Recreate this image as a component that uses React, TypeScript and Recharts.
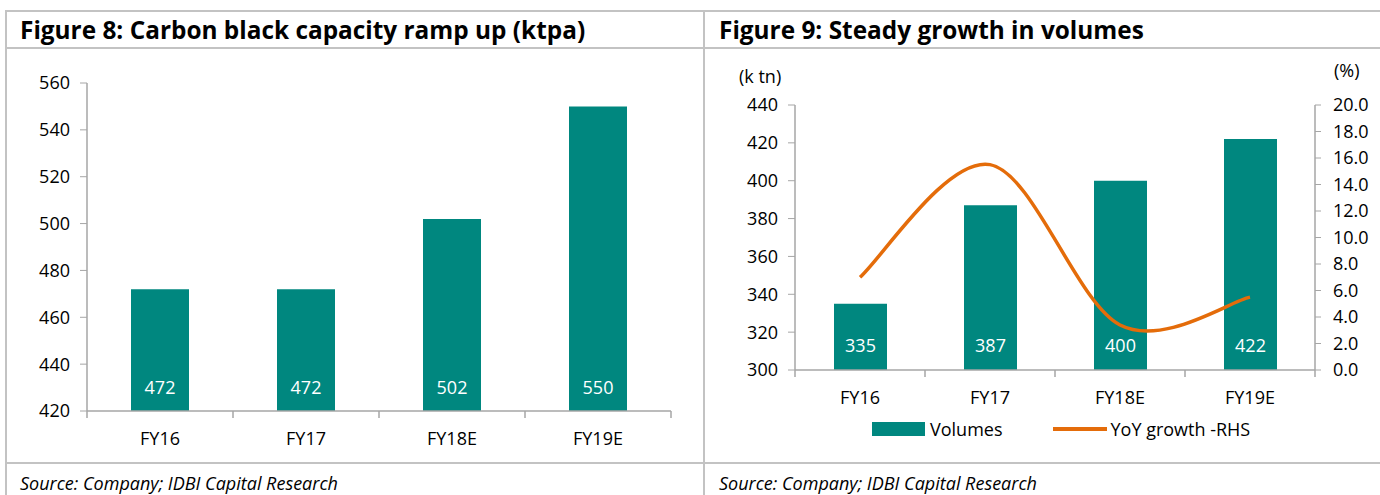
import React from 'react';
import {
  ComposedChart,
  BarChart,
  Bar,
  Line,
  XAxis,
  YAxis,
  LabelList,
  Legend,
} from 'recharts';

const categories = ['FY16', 'FY17', 'FY18E', 'FY19E'];
const capacity = [472, 472, 502, 550];
const volumes = [335, 387, 400, 422];
const yoyGrowth = [7.0, 15.5, 3.4, 5.5];

const capacityTicks = [420, 440, 460, 480, 500, 520, 540, 560];
const volumeTicks = [300, 320, 340, 360, 380, 400, 420, 440];
const growthTicks = [0, 2, 4, 6, 8, 10, 12, 14, 16, 18, 20];

const capacityData = categories.map((c, i) => ({ cat: c, capacity: capacity[i] }));
const volumeData = categories.map((c, i) => ({
  cat: c,
  volumes: volumes[i],
  growth: yoyGrowth[i],
}));

const TEAL = '#00877F';
const ORANGE = '#E46C0A';
const AXIS = '#a6a6a6';
const FRAME = '#c3c3c3';
const FONT = '"Open Sans", "Noto Sans", sans-serif';
const X_TICK_MARGIN = 21;
const X_TICK_LEN = 7;

// Excel-like smoothed line (Catmull-Rom through the points)
function excelCurve(context: any) {
  let pts: number[][] = [];
  return {
    areaStart() {},
    areaEnd() {},
    lineStart() {
      pts = [];
    },
    point(x: number, y: number) {
      pts.push([+x, +y]);
    },
    lineEnd() {
      const n = pts.length;
      if (!n) return;
      context.moveTo(pts[0][0], pts[0][1]);
      const t = 1 / 6;
      for (let i = 0; i < n - 1; i++) {
        const p0 = pts[i - 1] || pts[i];
        const p1 = pts[i];
        const p2 = pts[i + 1];
        const p3 = pts[i + 2] || p2;
        context.bezierCurveTo(
          p1[0] + (p2[0] - p0[0]) * t,
          p1[1] + (p2[1] - p0[1]) * t,
          p2[0] - (p3[0] - p1[0]) * t,
          p2[1] - (p3[1] - p1[1]) * t,
          p2[0],
          p2[1]
        );
      }
    },
  };
}

const tickStyle = { fill: '#000', fontSize: 18, fontFamily: FONT };

// category tick: label at the band centre plus Excel-style tick marks at band edges
const CategoryTick = (props: any) => {
  const { x, y, payload, index, visibleTicksCount } = props;
  const half = (payload && payload.offset) || 0;
  const axisY = y - X_TICK_MARGIN;
  const last = index === (visibleTicksCount ?? categories.length) - 1;
  return (
    <g>
      <line x1={x - half} x2={x - half} y1={axisY} y2={axisY + X_TICK_LEN} stroke={AXIS} strokeWidth={1.5} />
      {last && (
        <line x1={x + half} x2={x + half} y1={axisY} y2={axisY + X_TICK_LEN} stroke={AXIS} strokeWidth={1.5} />
      )}
      <text x={x} y={y} dy="0.71em" textAnchor="middle" fill="#000" fontSize={18} fontFamily={FONT}>
        {payload.value}
      </text>
    </g>
  );
};

const LegendContent = (props: any) => {
  const payload = props.payload || [];
  return (
    <div
      style={{
        height: 20,
        display: 'flex',
        alignItems: 'center',
        paddingLeft: 172,
        fontFamily: FONT,
        fontSize: 18,
        color: '#000',
      }}
    >
      {payload.map((p: any, i: number) => (
        <div key={i} style={{ display: 'flex', alignItems: 'center' }}>
          {p.type === 'line' ? (
            <div style={{ width: 54, height: 4, background: p.color, marginRight: 4, marginLeft: 50 }} />
          ) : (
            <div style={{ width: 53, height: 14, background: p.color, marginRight: 5 }} />
          )}
          <span style={{ lineHeight: '20px' }}>{p.value}</span>
        </div>
      ))}
    </div>
  );
};

const titleStyle: React.CSSProperties = {
  position: 'absolute',
  top: 17,
  fontFamily: FONT,
  fontWeight: 700,
  fontSize: 25,
  lineHeight: '25px',
  color: '#000',
  whiteSpace: 'nowrap',
  transform: 'scaleX(0.975)',
  transformOrigin: 'left center',
};

const sourceStyle: React.CSSProperties = {
  position: 'absolute',
  top: 474,
  fontFamily: FONT,
  fontStyle: 'italic',
  fontSize: 18,
  lineHeight: '18px',
  color: '#000',
  whiteSpace: 'nowrap',
};

const line = (s: React.CSSProperties): React.CSSProperties => ({
  position: 'absolute',
  background: FRAME,
  ...s,
});

export default function App() {
  return (
    <div
      style={{
        position: 'absolute',
        left: 0,
        top: 0,
        width: 1380,
        height: 495,
        background: '#fff',
        overflow: 'hidden',
        fontFamily: FONT,
      }}
    >
      {/* frame */}
      <div style={line({ left: 5, top: 10, width: 1375, height: 2 })} />
      <div style={line({ left: 5, top: 47, width: 1375, height: 2 })} />
      <div style={line({ left: 5, top: 462, width: 1375, height: 2 })} />
      <div style={line({ left: 5, top: 10, width: 2, height: 485 })} />
      <div style={line({ left: 703, top: 10, width: 2, height: 485 })} />

      <div style={{ ...titleStyle, left: 20 }}>Figure 8: Carbon black capacity ramp up (ktpa)</div>
      <div style={{ ...titleStyle, left: 719 }}>Figure 9: Steady growth in volumes</div>

      <div style={{ ...sourceStyle, left: 20 }}>Source: Company; IDBI Capital Research</div>
      <div style={{ ...sourceStyle, left: 719 }}>Source: Company; IDBI Capital Research</div>

      <div style={{ position: 'absolute', left: 739, top: 67, fontSize: 18, lineHeight: '18px' }}>(k tn)</div>
      <div style={{ position: 'absolute', left: 1334, top: 61, fontSize: 18, lineHeight: '18px' }}>(%)</div>

      {/* Figure 8 */}
      <div style={{ position: 'absolute', left: 0, top: 0 }}>
        <BarChart
          width={700}
          height={495}
          data={capacityData}
          margin={{ top: 83, right: 29, left: 27, bottom: 54 }}
        >
          <XAxis
            dataKey="cat"
            height={30}
            tickLine={false}
            tickSize={0}
            tickMargin={X_TICK_MARGIN}
            axisLine={{ stroke: AXIS, strokeWidth: 1.5 }}
            tick={<CategoryTick />}
            interval={0}
          />
          <YAxis
            width={60}
            domain={[420, 560]}
            ticks={capacityTicks}
            allowDataOverflow
            axisLine={{ stroke: AXIS, strokeWidth: 1.5 }}
            tickLine={{ stroke: AXIS }}
            tickSize={7}
            tickMargin={10}
            tick={tickStyle}
          />
          <Bar dataKey="capacity" fill={TEAL} barSize={58} isAnimationActive={false}>
            <LabelList
              dataKey="capacity"
              position="insideBottom"
              offset={17}
              fill="#fff"
              fontSize={18}
              fontFamily={FONT}
            />
          </Bar>
        </BarChart>
      </div>

      {/* Figure 9 */}
      <div style={{ position: 'absolute', left: 700, top: 0 }}>
        <ComposedChart
          width={680}
          height={495}
          data={volumeData}
          margin={{ top: 105, right: 5, left: 35, bottom: 75 }}
        >
          <XAxis
            dataKey="cat"
            height={30}
            tickLine={false}
            tickSize={0}
            tickMargin={X_TICK_MARGIN}
            axisLine={{ stroke: AXIS, strokeWidth: 1.5 }}
            tick={<CategoryTick />}
            interval={0}
          />
          <YAxis
            yAxisId="left"
            width={60}
            domain={[300, 440]}
            ticks={volumeTicks}
            allowDataOverflow
            axisLine={{ stroke: AXIS, strokeWidth: 1.5 }}
            tickLine={{ stroke: AXIS }}
            tickSize={7}
            tickMargin={10}
            tick={tickStyle}
          />
          <YAxis
            yAxisId="right"
            orientation="right"
            width={60}
            domain={[0, 20]}
            ticks={growthTicks}
            allowDataOverflow
            tickFormatter={(v: number) => v.toFixed(1)}
            axisLine={{ stroke: AXIS, strokeWidth: 1.5 }}
            tickLine={{ stroke: AXIS }}
            tickSize={6}
            tickMargin={12}
            tick={tickStyle}
          />
          <Legend
            verticalAlign="bottom"
            content={<LegendContent />}
            wrapperStyle={{ left: 0, bottom: 56, width: 680, height: 20 }}
          />
          <Bar
            yAxisId="left"
            dataKey="volumes"
            name="Volumes"
            fill={TEAL}
            barSize={53}
            legendType="rect"
            isAnimationActive={false}
          >
            <LabelList
              dataKey="volumes"
              position="insideBottom"
              offset={18}
              fill="#fff"
              fontSize={18}
              fontFamily={FONT}
            />
          </Bar>
          <Line
            yAxisId="right"
            dataKey="growth"
            name="YoY growth -RHS"
            type={excelCurve as any}
            stroke={ORANGE}
            strokeWidth={3.5}
            dot={false}
            activeDot={false}
            legendType="line"
            isAnimationActive={false}
          />
        </ComposedChart>
      </div>
    </div>
  );
}
